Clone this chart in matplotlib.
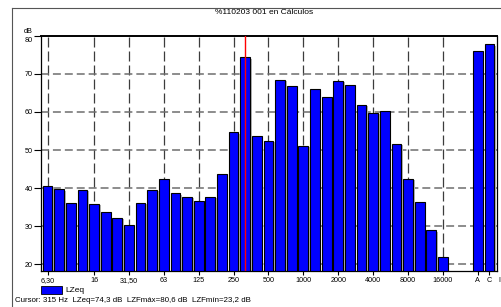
import numpy as np
import matplotlib
matplotlib.use("Agg")
import matplotlib.pyplot as plt
from matplotlib.transforms import ScaledTranslation, blended_transform_factory
from matplotlib.patches import Rectangle
from matplotlib.lines import Line2D

plt.rcParams['font.family'] = ['Liberation Sans', 'DejaVu Sans']

# ---- data ----
bands = ['6,3', '8', '10', '12,5', '16', '20', '25', '31,5', '40', '50', '63', '80',
         '100', '125', '160', '200', '250', '315', '400', '500', '630', '800', '1000',
         '1250', '1600', '2000', '2500', '3150', '4000', '5000', '6300', '8000',
         '10000', '12500', '16000', '20000']
lzeq = [40.6, 39.65, 36.1, 39.5, 35.8, 33.7, 32.2, 30.3, 36.2, 39.5, 42.5, 38.6,
        37.7, 36.5, 37.6, 43.8, 54.6, 74.3, 53.8, 52.3, 68.4, 66.8, 51.1,
        66.0, 63.9, 68.1, 67.1, 61.9, 59.8, 60.3, 51.5, 42.4,
        36.3, 28.9, 21.8, np.nan]
weighted_labels = ['A', 'C']
weighted_values = [76.1, 77.7]
tick_bands = ['6,3', '16', '31,5', '63', '125', '250', '500', '1000', '2000',
              '4000', '8000', '16000']
tick_texts = ['6,30', '16', '31,50', '63', '125', '250', '500', '1000', '2000',
              '4000', '8000', '16000']
y_ticks = [20, 30, 40, 50, 60, 70]
cursor_band = '315'
title = '%110203 001 en Cálculos'
cursor_text = 'Cursor: 315 Hz  LZeq=74,3 dB  LZFmáx=80,6 dB  LZFmín=23,2 dB'

W, H = 502, 307
fig = plt.figure(figsize=(W / 100, H / 100), dpi=100)
ax = fig.add_axes([41 / W, 1 - 271 / H, 456 / W, 235.3 / H])

x_bands = np.arange(len(bands))
x_w = len(bands) + 1 + np.arange(len(weighted_labels))
xs = np.concatenate([x_bands, x_w])
vals = np.concatenate([np.array(lzeq, dtype=float), np.array(weighted_values)])
ymin = 18.25
heights = vals - ymin

width = 0.84
shadow = ax.transData + ScaledTranslation(1.6 / 100, -1.2 / 100, fig.dpi_scale_trans)
ax.bar(xs, heights, bottom=ymin, width=width, color='#b4b4b4', edgecolor='none',
       transform=shadow, zorder=2)
ax.bar(xs, heights, bottom=ymin, width=width, color='#0000ff', edgecolor='black',
       linewidth=0.8, zorder=3)

# cursor
cx = bands.index(cursor_band)
ax.axvline(cx, color='red', lw=1.0, zorder=4)

ax.set_xlim(-0.56, 38.65)
ax.set_ylim(ymin, 80)

tick_pos = [bands.index(b) for b in tick_bands] + list(x_w)
ax.set_xticks(tick_pos)
ax.set_xticklabels(tick_texts + weighted_labels, fontsize=5.2)
for lab in ax.get_xticklabels():
    lab.set_verticalalignment('baseline')
ax.set_yticks(y_ticks + [80])
ax.set_yticklabels([str(v) for v in y_ticks] + [''], fontsize=5.2)
ax.tick_params(axis='y', length=5, width=0.8, pad=1.0, direction='out')
ax.tick_params(axis='x', length=3, width=0.8, pad=5.2, direction='out')

# "80" label and unit
fig.text(32.5 / W, 1 - 40 / H, '80', ha='right', va='center', fontsize=5.2)
fig.text(28 / W, 1 - 31.5 / H, 'dB', ha='center', va='center', fontsize=5.2)
# clipped "I" label
ax.text(38.85, -0.0475, 'I', transform=blended_transform_factory(ax.transData, ax.transAxes),
        ha='center', va='baseline', fontsize=5.2, clip_on=False)

# grid
for p in [bands.index(b) for b in tick_bands]:
    ax.axvline(p, color='#3c3c3c', lw=0.9, dashes=(8, 3.2), zorder=1)
for yv in y_ticks:
    ax.axhline(yv, color='#6e6e6e', lw=1.1, dashes=(5.2, 2.6), zorder=1)

for s in ax.spines.values():
    s.set_color('black')
    s.set_linewidth(0.9)
ax.spines['top'].set_linewidth(1.4)

# title and frame
fig.text(264 / W, 1 - 13 / H, title, ha='center', va='center', fontsize=6)
fig.add_artist(Line2D([12 / W, 12 / W], [0, 1 - 8 / H], color='#555555', lw=0.8))
fig.add_artist(Line2D([12 / W, 1], [1 - 8 / H, 1 - 8 / H], color='#555555', lw=0.8))

# legend
fig.add_artist(Rectangle((41 / W, 1 - 294 / H), 21 / W, 8 / H,
                         facecolor='#0000ff', edgecolor='black', lw=0.6,
                         transform=fig.transFigure))
fig.text(65 / W, 1 - 290 / H, 'LZeq', ha='left', va='center', fontsize=6)
fig.text(15 / W, 1 - 301 / H, cursor_text, ha='left', va='center', fontsize=5.7)

fig.savefig('out.png', dpi=100)
